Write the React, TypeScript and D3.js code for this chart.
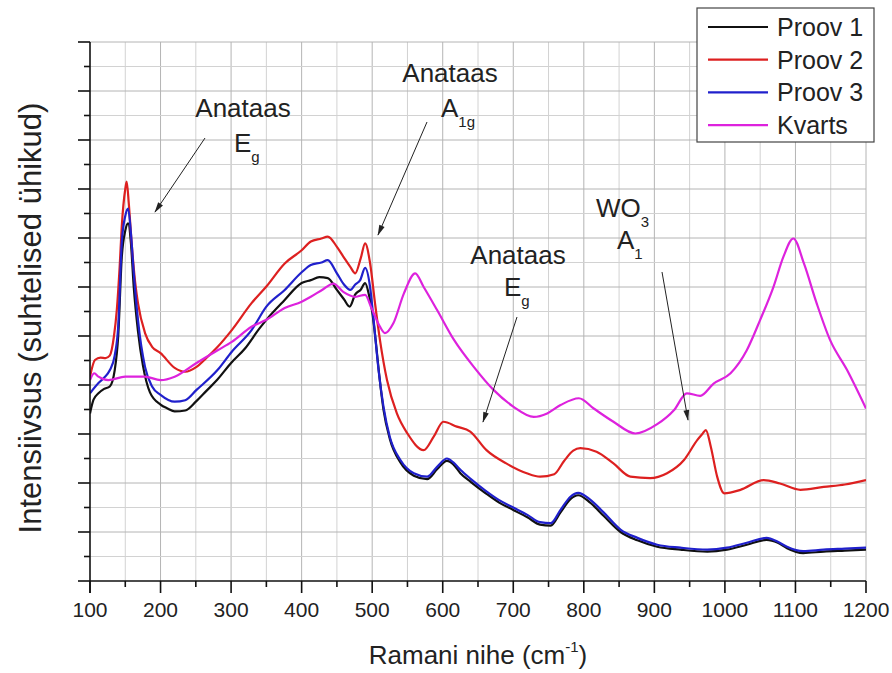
import React from "react";
import * as d3 from "d3";

// Raman spectra, [wavenumber cm^-1, relative intensity]
const proov1: [number, number][] = [
  [100, 3.42], [105, 3.7], [112, 3.83], [120, 3.92], [128, 3.97], [135, 4.3], [140, 5.0], [145, 6.6],
  [150, 7.15], [154, 7.3], [158, 6.9], [162, 6.0], [168, 5.1], [175, 4.4], [185, 3.85], [200, 3.6],
  [210, 3.52], [220, 3.46], [235, 3.48], [250, 3.66], [265, 3.88], [280, 4.1], [300, 4.45], [320, 4.75],
  [340, 5.15], [350, 5.33], [375, 5.72], [400, 6.08], [413, 6.14], [425, 6.2], [437, 6.18], [450, 5.94],
  [460, 5.75], [468, 5.6], [476, 5.85], [484, 5.95], [490, 6.08], [496, 5.8], [500, 5.5], [505, 4.9],
  [510, 4.2], [516, 3.5], [525, 2.9], [540, 2.42], [559, 2.15], [578, 2.08], [592, 2.28], [606, 2.45],
  [615, 2.38], [625, 2.2], [640, 2.02], [660, 1.8], [680, 1.6], [700, 1.45], [720, 1.3], [738, 1.15],
  [753, 1.13], [767, 1.4], [781, 1.67], [792, 1.75], [809, 1.6], [828, 1.33], [852, 1.0], [876, 0.83],
  [904, 0.7], [937, 0.64], [975, 0.6], [1003, 0.64], [1031, 0.74], [1059, 0.84], [1075, 0.78], [1088, 0.67],
  [1111, 0.57], [1140, 0.6], [1170, 0.62], [1200, 0.64],
];

const proov2: [number, number][] = [
  [100, 4.17], [107, 4.51], [115, 4.56], [122, 4.55], [128, 4.6], [134, 5.0], [138, 5.53], [142, 6.4],
  [145, 7.23], [150, 8.0], [152, 8.15], [155, 7.7], [159, 6.9], [164, 6.1], [168, 5.67], [178, 5.06],
  [188, 4.78], [200, 4.65], [220, 4.35], [235, 4.27], [251, 4.37], [265, 4.55], [281, 4.78], [301, 5.12],
  [329, 5.67], [350, 6.01], [376, 6.48], [400, 6.75], [413, 6.93], [428, 6.99], [437, 7.03], [450, 6.82],
  [460, 6.6], [469, 6.41], [476, 6.28], [484, 6.6], [490, 6.89], [497, 6.49], [504, 5.67], [511, 4.92],
  [521, 4.1], [535, 3.42], [550, 3.01], [573, 2.67], [587, 2.94], [601, 3.25], [620, 3.15], [639, 3.05],
  [662, 2.67], [690, 2.4], [719, 2.2], [738, 2.13], [758, 2.18], [772, 2.45], [785, 2.66], [795, 2.71],
  [818, 2.64], [842, 2.4], [866, 2.13], [894, 2.1], [918, 2.2], [942, 2.47], [961, 2.88], [968, 3.0],
  [973, 3.08], [980, 2.74], [989, 2.13], [999, 1.79], [1022, 1.86], [1055, 2.06], [1078, 1.99], [1107, 1.86],
  [1140, 1.92], [1170, 1.97], [1200, 2.06],
];

const proov3: [number, number][] = [
  [100, 3.83], [112, 4.04], [120, 4.15], [128, 4.3], [135, 4.6], [140, 5.2], [145, 6.9], [150, 7.45],
  [154, 7.6], [158, 7.1], [162, 6.3], [168, 5.33], [178, 4.37], [188, 3.97], [200, 3.8], [220, 3.66],
  [235, 3.69], [251, 3.9], [281, 4.31], [301, 4.68], [329, 5.12], [350, 5.6], [376, 5.94], [400, 6.3],
  [413, 6.45], [428, 6.5], [437, 6.55], [450, 6.28], [460, 6.05], [469, 5.94], [476, 6.05], [483, 6.14],
  [490, 6.39], [497, 6.0], [502, 5.33], [509, 4.31], [516, 3.56], [525, 2.94], [540, 2.47], [559, 2.2],
  [578, 2.13], [592, 2.33], [606, 2.5], [615, 2.42], [625, 2.27], [640, 2.08], [660, 1.85], [680, 1.65],
  [700, 1.5], [720, 1.35], [738, 1.2], [753, 1.18], [767, 1.45], [781, 1.72], [792, 1.8], [809, 1.66],
  [828, 1.4], [852, 1.05], [876, 0.88], [904, 0.74], [937, 0.68], [975, 0.64], [1003, 0.68], [1031, 0.78],
  [1059, 0.88], [1075, 0.8], [1088, 0.7], [1111, 0.61], [1140, 0.64], [1170, 0.66], [1200, 0.68],
];

const kvarts: [number, number][] = [
  [100, 4.1], [106, 4.24], [112, 4.17], [126, 4.1], [150, 4.17], [178, 4.17], [200, 4.1], [220, 4.17],
  [251, 4.45], [281, 4.71], [301, 4.88], [329, 5.19], [350, 5.33], [376, 5.57], [400, 5.7], [413, 5.8],
  [430, 5.95], [445, 6.07], [459, 5.9], [476, 5.8], [490, 5.84], [499, 5.57], [511, 5.19], [518, 5.06],
  [530, 5.26], [545, 5.87], [561, 6.28], [573, 6.0], [592, 5.53], [616, 4.92], [644, 4.37], [672, 3.9],
  [700, 3.56], [729, 3.35], [748, 3.42], [767, 3.59], [793, 3.73], [814, 3.52], [842, 3.25], [873, 3.01],
  [904, 3.2], [928, 3.49], [946, 3.83], [965, 3.78], [984, 4.03], [1008, 4.24], [1031, 4.71], [1050, 5.33],
  [1069, 6.01], [1083, 6.62], [1097, 6.99], [1112, 6.48], [1130, 5.67], [1149, 4.92], [1173, 4.31], [1200, 3.52],
];

const seriesNames = ["Proov 1", "Proov 2", "Proov 3", "Kvarts"];
const seriesColors = ["#111111", "#dd2020", "#2020cc", "#dd22dd"];
const seriesData = [proov1, proov2, proov3, kvarts];

const xMajorTicks = [100, 200, 300, 400, 500, 600, 700, 800, 900, 1000, 1100, 1200];

const W = 892;
const H = 673;
const FONT = "'Liberation Sans', Arial, Helvetica, sans-serif";

export default function App() {
  const x = d3.scaleLinear().domain([100, 1200]).range([90, 866]);
  const y = d3.scaleLinear().domain([0, 11]).range([581, 42]);

  const line = d3
    .line<[number, number]>()
    .x((d) => x(d[0]))
    .y((d) => y(d[1]))
    .curve(d3.curveMonotoneX);

  const xGrid = d3.range(150, 1201, 50);
  const yGrid = d3.range(0.5, 11.01, 0.5);
  const yTicks = d3.range(0, 11.01, 0.5);
  const xMinor = d3.range(150, 1200, 100);

  // annotation arrows: [x1, y1, x2, y2] from the label toward the band
  const arrows = [
    [205, 138, 155, 212],
    [427, 122, 378, 235],
    [517, 317, 483, 422],
    [662, 272, 688, 420],
  ];

  const legendX = 697;
  const legendY = 8;

  return (
    <svg
      width={W}
      height={H}
      style={{ position: "absolute", left: 0, top: 0, background: "#fff" }}
      fontFamily={FONT}
    >
      <defs>
        <marker id="ah" viewBox="0 0 12 10" refX="11" refY="5" markerWidth="12" markerHeight="9" orient="auto" markerUnits="userSpaceOnUse">
          <path d="M0,1.8 L12,5 L0,8.2 Z" fill="#222" />
        </marker>
        <clipPath id="plot">
          <rect x={90} y={42} width={776} height={539} />
        </clipPath>
      </defs>
      <rect width={W} height={H} fill="#fff" />

      {/* grid */}
      <g>
        {xGrid.map((v) => (
          <line key={"gx" + v} x1={x(v)} x2={x(v)} y1={y(0)} y2={y(11)} stroke={v % 100 === 0 ? "#b4b4b4" : "#d2d2d2"} strokeWidth={1} />
        ))}
        {yGrid.map((v) => (
          <line key={"gy" + v} x1={x(100)} x2={x(1200)} y1={y(v)} y2={y(v)} stroke={v % 1 === 0 ? "#b4b4b4" : "#d2d2d2"} strokeWidth={1} />
        ))}
      </g>

      {/* spectra */}
      <g clipPath="url(#plot)">
        {seriesData.map((d, i) => (
          <path key={seriesNames[i]} d={line(d) || ""} fill="none" stroke={seriesColors[i]} strokeWidth={2.2} strokeLinejoin="round" />
        ))}
      </g>

      {/* axes */}
      <g stroke="#111" strokeWidth={1.6}>
        <line x1={x(100)} x2={x(100)} y1={y(11)} y2={y(0) + 12} />
        <line x1={x(100)} x2={x(1200)} y1={y(0)} y2={y(0)} />
        {yTicks.map((v) => (
          <line key={"ty" + v} x1={x(100) - (v % 1 === 0 ? 12 : 6)} x2={x(100)} y1={y(v)} y2={y(v)} />
        ))}
        {xMajorTicks.map((v) => (
          <line key={"tx" + v} x1={x(v)} x2={x(v)} y1={y(0)} y2={y(0) + 12} />
        ))}
        {xMinor.map((v) => (
          <line key={"tm" + v} x1={x(v)} x2={x(v)} y1={y(0)} y2={y(0) + 6} />
        ))}
      </g>
      <g fontSize={21} fill="#222" textAnchor="middle">
        {xMajorTicks.map((v) => (
          <text key={"lx" + v} x={x(v)} y={617}>
            {v}
          </text>
        ))}
      </g>

      {/* axis titles */}
      <text x={478} y={664} fontSize={26} fill="#222" textAnchor="middle">
        Ramani nihe (cm
        <tspan fontSize={15} dy={-12}>-1</tspan>
        <tspan dy={12}>)</tspan>
      </text>
      <text transform="translate(41,318) rotate(-90)" fontSize={31} fill="#222" textAnchor="middle">
        Intensiivsus (suhtelised ühikud)
      </text>

      {/* annotations */}
      <g fill="#222" fontSize={26}>
        <text x={243} y={117} textAnchor="middle">Anataas</text>
        <text x={234} y={152}>E<tspan fontSize={15} dy={10}>g</tspan></text>

        <text x={450} y={82} textAnchor="middle">Anataas</text>
        <text x={441} y={117}>A<tspan fontSize={15} dy={10}>1g</tspan></text>

        <text x={518} y={264} textAnchor="middle">Anataas</text>
        <text x={504} y={296}>E<tspan fontSize={15} dy={10}>g</tspan></text>

        <text x={596} y={217}>WO<tspan fontSize={15} dy={10}>3</tspan></text>
        <text x={617} y={249}>A<tspan fontSize={15} dy={10}>1</tspan></text>
      </g>
      <g stroke="#222" strokeWidth={1}>
        {arrows.map((a, i) => (
          <line key={"ar" + i} x1={a[0]} y1={a[1]} x2={a[2]} y2={a[3]} markerEnd="url(#ah)" />
        ))}
      </g>

      {/* legend */}
      <g>
        <rect x={legendX} y={legendY} width={177} height={134} fill="#fff" stroke="#444" strokeWidth={1.2} />
        {seriesNames.map((n, i) => (
          <g key={n}>
            <line x1={legendX + 11} x2={legendX + 71} y1={legendY + 19 + i * 32.7} y2={legendY + 19 + i * 32.7} stroke={seriesColors[i]} strokeWidth={2.2} />
            <text x={legendX + 80} y={legendY + 28 + i * 32.7} fontSize={25} fill="#222">
              {n}
            </text>
          </g>
        ))}
      </g>
    </svg>
  );
}
